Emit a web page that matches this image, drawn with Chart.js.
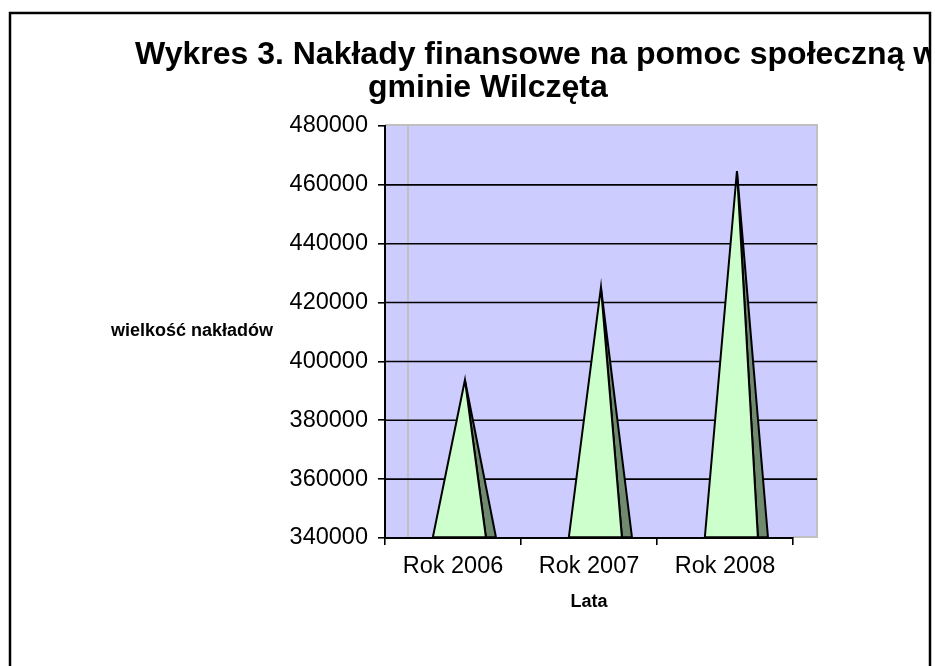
<!DOCTYPE html>
<html>
<head>
<meta charset="utf-8">
<script src="https://cdn.jsdelivr.net/npm/chart.js@4.4.1/dist/chart.umd.min.js"></script>
<style>
  html, body { margin: 0; padding: 0; background: #fff; }
  #wrap { width: 935px; height: 666px; }
</style>
</head>
<body>
<div id="wrap"><canvas id="chart" width="935" height="666"></canvas></div>
<script>
// data
const years = ['Rok 2006', 'Rok 2007', 'Rok 2008'];
const outlays = [393700, 425200, 464700];
const yTicks = [340000, 360000, 380000, 400000, 420000, 440000, 460000, 480000];
const titleLines = ['Wykres 3. Nakłady finansowe na pomoc społeczną w', 'gminie Wilczęta'];
const yTitle = 'wielkość nakładów';
const xTitle = 'Lata';

const FONT = '"Liberation Sans", Arial, sans-serif';
const WALL = '#CCCCFF';
const EDGE = '#C0C0C0';
const FRONT = '#CCFFCC';
const SIDE = '#6F8A6F';
const DEPTH = 24;

// back wall, 3D edges and gridlines (drawn before the axes)
const wallPlugin = {
  id: 'wall',
  beforeDraw(chart) {
    const { ctx, chartArea: a, scales: { y } } = chart;
    ctx.save();
    ctx.fillStyle = WALL;
    ctx.fillRect(a.left, a.top - 1, a.right - a.left + DEPTH, a.bottom - a.top + 1);
    ctx.strokeStyle = EDGE;
    ctx.lineWidth = 2;
    ctx.beginPath();
    ctx.moveTo(a.left, a.top - 1); ctx.lineTo(a.right + DEPTH, a.top - 1);
    ctx.lineTo(a.right + DEPTH, a.bottom - 1); ctx.lineTo(a.right, a.bottom - 1);
    ctx.moveTo(a.left + DEPTH - 1, a.top - 1); ctx.lineTo(a.left + DEPTH - 1, a.bottom);
    ctx.stroke();
    ctx.strokeStyle = '#000';
    ctx.lineWidth = 1.6;
    yTicks.slice(1, -1).forEach(v => {
      const py = y.getPixelForValue(v);
      ctx.beginPath();
      ctx.moveTo(a.left, py);
      ctx.lineTo(a.right + DEPTH, py);
      ctx.stroke();
    });
    ctx.restore();
  }
};

// each bar is drawn as a pyramid: light front face, dark side face
const pyramidPlugin = {
  id: 'pyramids',
  afterDatasetsDraw(chart) {
    const ctx = chart.ctx;
    const meta = chart.getDatasetMeta(0);
    ctx.save();
    ctx.strokeStyle = '#000';
    ctx.lineWidth = 2;
    ctx.lineJoin = 'miter';
    meta.data.forEach(bar => {
      const { x, y, base, width } = bar.getProps(['x', 'y', 'base', 'width'], true);
      const fl = x - width / 2 + width * 0.12;
      const fr = x + width / 2 + width * 0.12;
      const ax = x + width * 0.225;
      const sr = fr + width * 0.19;
      ctx.beginPath();
      ctx.moveTo(ax, y); ctx.lineTo(fr, base); ctx.lineTo(sr, base); ctx.closePath();
      ctx.fillStyle = SIDE; ctx.fill(); ctx.stroke();
      ctx.beginPath();
      ctx.moveTo(ax, y); ctx.lineTo(fl, base); ctx.lineTo(fr, base); ctx.closePath();
      ctx.fillStyle = FRONT; ctx.fill(); ctx.stroke();
    });
    ctx.restore();
  }
};

// title, horizontal y title and the outer frame
const textPlugin = {
  id: 'texts',
  afterDraw(chart) {
    const ctx = chart.ctx;
    ctx.save();
    ctx.beginPath();
    ctx.rect(0, 0, 929, 666);
    ctx.clip();
    ctx.fillStyle = '#000';
    ctx.textAlign = 'left';
    ctx.textBaseline = 'alphabetic';
    ctx.font = 'bold 32px ' + FONT;
    ctx.fillText(titleLines[0], 135, 64);
    ctx.fillText(titleLines[1], 368, 97);
    ctx.font = 'bold 18px ' + FONT;
    ctx.textAlign = 'center';
    ctx.fillText(yTitle, 192, 336);
    ctx.restore();
    ctx.save();
    ctx.strokeStyle = '#000';
    ctx.lineWidth = 2.5;
    ctx.strokeRect(10, 13, 920, 700);
    ctx.restore();
  }
};

new Chart(document.getElementById('chart'), {
  type: 'bar',
  data: {
    labels: years,
    datasets: [{
      data: outlays,
      base: yTicks[0],
      backgroundColor: 'rgba(0,0,0,0)',
      borderWidth: 0,
      categoryPercentage: 0.39,
      barPercentage: 1
    }]
  },
  options: {
    responsive: false,
    animation: false,
    layout: { padding: { left: 0, right: 142, top: 126, bottom: 53 } },
    plugins: { legend: { display: false }, tooltip: { enabled: false }, title: { display: false } },
    scales: {
      x: {
        grid: { drawOnChartArea: false, drawTicks: true, tickLength: 7, color: '#000', lineWidth: 1.6 },
        border: { color: '#000', width: 2 },
        ticks: { color: '#000', font: { family: FONT, size: 23.5 }, padding: 7, maxRotation: 0, autoSkip: false },
        title: { display: true, text: xTitle, color: '#000', font: { family: FONT, size: 18, weight: 'bold' }, padding: 0 },
        afterFit(scale) { scale.height = 75; }
      },
      y: {
        min: yTicks[0],
        max: yTicks[yTicks.length - 1],
        afterBuildTicks(scale) { scale.ticks = yTicks.map(v => ({ value: v })); },
        grid: { drawOnChartArea: false, drawTicks: true, tickLength: 7, color: '#000', lineWidth: 1.6 },
        border: { color: '#000', width: 2 },
        ticks: { color: '#000', font: { family: FONT, size: 23.5 }, padding: 10, callback: v => String(v) },
        afterFit(scale) { scale.width = 385; }
      }
    }
  },
  plugins: [wallPlugin, pyramidPlugin, textPlugin]
});
</script>
</body>
</html>
